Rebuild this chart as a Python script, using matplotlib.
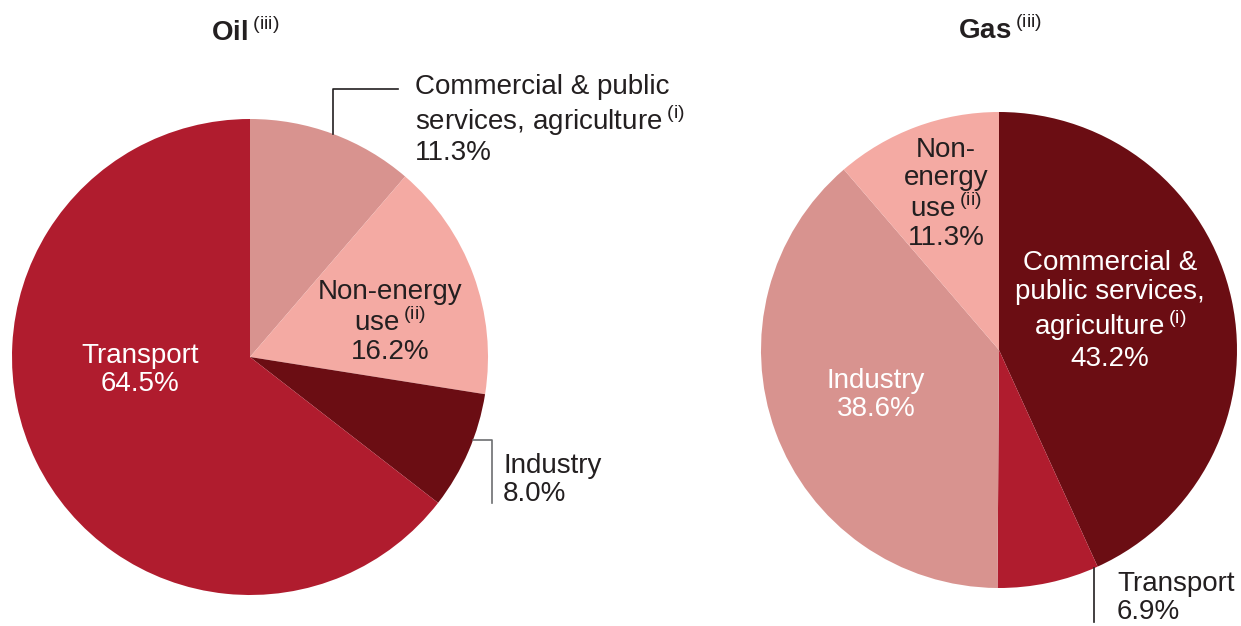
import matplotlib.pyplot as plt
import numpy as np

plt.rcParams['font.family'] = ['Liberation Sans', 'DejaVu Sans']
plt.rcParams['mathtext.fontset'] = 'custom'
plt.rcParams['mathtext.rm'] = 'Liberation Sans'

W, H = 1241, 626

# shares, clockwise from 12 o'clock
oil_labels = ['Commercial & public services, agriculture', 'Non-energy use', 'Industry', 'Transport']
oil_values = [11.3, 16.2, 8.0, 64.5]
gas_labels = ['Commercial & public services, agriculture', 'Transport', 'Industry', 'Non-energy use']
gas_values = [43.2, 6.9, 38.6, 11.3]

oil_colors = ['#d8938f', '#f4aaa3', '#6b0d13', '#b01c2e']
gas_colors = ['#6b0d13', '#b01c2e', '#d8938f', '#f4aaa3']

DARK = '#231f20'
FS = 20
LS = 1.12

fig = plt.figure(figsize=(W / 100, H / 100), dpi=100)
ax = fig.add_axes([0, 0, 1, 1])

R = 238
oil_c = (250, H - 357)
gas_c = (999, H - 350)

ax.pie(oil_values, colors=oil_colors, startangle=90, counterclock=False,
       center=oil_c, radius=R, frame=True, wedgeprops=dict(linewidth=0))
ax.pie(gas_values, colors=gas_colors, startangle=90, counterclock=False,
       center=gas_c, radius=R, frame=True, wedgeprops=dict(linewidth=0))
ax.set_xlim(0, W)
ax.set_ylim(0, H)
ax.set_aspect('equal')
ax.axis('off')


def edge_point(center, values, i, frac):
    # point on the rim at a fraction through wedge i (clockwise from top)
    start = sum(values[:i])
    ang = np.deg2rad(90 - (start + frac * values[i]) / 100 * 360)
    return center[0] + R * np.cos(ang), center[1] + R * np.sin(ang)


sup = lambda s: r'$\,^{\mathrm{' + s + '}}$'

# titles
ax.text(211, H - 32, 'Oil' + sup('(iii)'), ha='left', va='center',
        fontsize=20, fontweight='bold', color=DARK)
ax.text(958, H - 30, 'Gas' + sup('(iii)'), ha='left', va='center',
        fontsize=20, fontweight='bold', color=DARK)

# oil labels
ax.text(140, H - 370, 'Transport\n%.1f%%' % oil_values[3], ha='center', va='center',
        fontsize=FS, color='white', linespacing=LS)
ax.text(390, H - 322, 'Non-energy\nuse' + sup('(ii)') + '\n%.1f%%' % oil_values[1],
        ha='center', va='center', fontsize=FS, color=DARK, linespacing=LS)
ax.text(415, H - 120, 'Commercial & public\nservices, agriculture' + sup('(i)')
        + '\n%.1f%%' % oil_values[0], ha='left', va='center', fontsize=FS,
        color=DARK, linespacing=LS)
ax.text(503, H - 480, 'Industry\n%.1f%%' % oil_values[2], ha='left', va='center',
        fontsize=FS, color=DARK, linespacing=LS)

# oil leader lines
x0, y0 = edge_point(oil_c, oil_values, 0, 0.5)
ax.plot([x0, x0, 398], [y0, H - 89, H - 89], color=DARK, lw=1.2)
x0, y0 = edge_point(oil_c, oil_values, 2, 0.4)
ax.plot([x0, 492, 492], [y0, y0, H - 503], color='#6d6e71', lw=1.2)

# gas labels
ax.text(946, H - 194, 'Non-\nenergy\nuse' + sup('(ii)') + '\n%.1f%%' % gas_values[3],
        ha='center', va='center', fontsize=FS, color=DARK, linespacing=LS)
ax.text(1110, H - 311, 'Commercial &\npublic services,\nagriculture' + sup('(i)')
        + '\n%.1f%%' % gas_values[0], ha='center', va='center', fontsize=FS,
        color='white', linespacing=LS)
ax.text(876, H - 395, 'Industry\n%.1f%%' % gas_values[2], ha='center', va='center',
        fontsize=FS, color='white', linespacing=LS)
ax.text(1117, H - 598, 'Transport\n%.1f%%' % gas_values[1], ha='left', va='center',
        fontsize=FS, color=DARK, linespacing=LS)

# gas leader line
x0, y0 = edge_point(gas_c, gas_values, 1, 0.04)
ax.plot([x0, x0], [y0, H - 622], color=DARK, lw=1.2)

fig.savefig('out.png', dpi=100, facecolor='white')
